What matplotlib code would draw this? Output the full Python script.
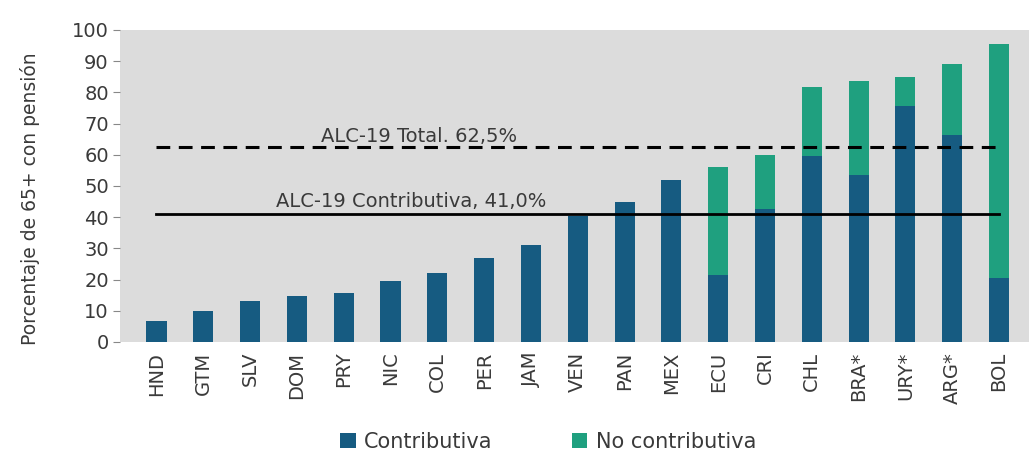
import numpy as np
import matplotlib
matplotlib.use("Agg")
import matplotlib.pyplot as plt

# Countries and coverage values (% of 65+ with pension)
paises = ["HND", "GTM", "SLV", "DOM", "PRY", "NIC", "COL", "PER", "JAM", "VEN",
          "PAN", "MEX", "ECU", "CRI", "CHL", "BRA*", "URY*", "ARG*", "BOL"]
contributiva = [6.8, 9.9, 13.2, 14.8, 15.6, 19.5, 22.0, 26.8, 31.0, 40.5,
                44.9, 51.8, 21.5, 42.5, 59.7, 53.5, 75.7, 66.3, 20.4]
no_contributiva = [0, 0, 0, 0, 0, 0, 0, 0, 0, 0,
                   0, 0, 34.7, 17.4, 22.1, 30.1, 9.3, 22.7, 75.0]
promedio_total = 62.5
promedio_contrib = 41.0

azul = "#165b81"
verde = "#1fa07f"
texto = "#3a3a3a"

plt.rcParams['font.family'] = ['DejaVu Sans']

fig = plt.figure(figsize=(10.29, 4.51), dpi=100)
ax = fig.add_axes([0.1166, 0.2417, 0.8834, 0.6918])
ax.set_facecolor("#dcdcdc")

x = np.arange(len(paises))
ax.bar(x, contributiva, width=0.43, color=azul, label="Contributiva", zorder=2)
ax.bar(x, no_contributiva, width=0.43, bottom=contributiva, color=verde,
       label="No contributiva", zorder=2)

# Regional averages
ax.plot([x[0], x[-1]], [promedio_total] * 2, color="black", lw=2.2,
        linestyle=(0, (4.5, 2.8)), zorder=3)
ax.plot([x[0], x[-1]], [promedio_contrib] * 2, color="black", lw=2, zorder=3)
ax.text(5.6, 64.0, "ALC-19 Total. 62,5%", ha="center", va="baseline",
        fontsize=14, color=texto)
ax.text(5.45, 43.3, "ALC-19 Contributiva, 41,0%", ha="center", va="baseline",
        fontsize=14, color=texto)

ax.set_xlim(-0.78, 18.64)
ax.set_ylim(0, 100)
ax.set_yticks(range(0, 101, 10))
ax.set_xticks(x)
ax.set_xticklabels(paises, rotation=90, fontsize=14, color=texto)
ax.tick_params(axis="y", labelsize=14, labelcolor=texto, length=5, color="#888888", pad=3)
ax.tick_params(axis="x", length=0, pad=7)
for s in ax.spines.values():
    s.set_visible(False)

ax.set_ylabel("Porcentaje de 65+ con pensión", fontsize=13.5, color=texto, labelpad=12)
ax.yaxis.set_label_coords(-0.088, 0.46)

ax.legend(loc="center", bbox_to_anchor=(0.471, -0.32), ncol=2, frameon=False,
          fontsize=15, handlelength=0.75, handleheight=0.75, columnspacing=3.8,
          handletextpad=0.4, labelcolor=texto)

fig.savefig("out.png", dpi=100)
